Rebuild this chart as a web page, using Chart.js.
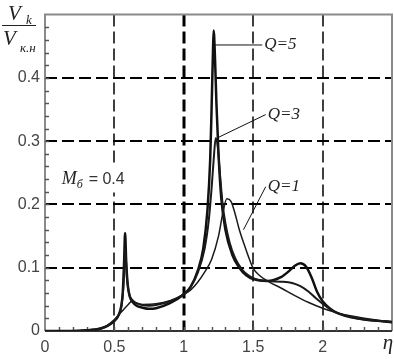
<!DOCTYPE html>
<html><head><meta charset="utf-8">
<script src="https://cdn.jsdelivr.net/npm/chart.js@4"></script>
<style>html,body{margin:0;padding:0;background:#fff;}canvas{display:block;}</style>
</head><body>
<canvas id="c" width="394" height="359"></canvas>
<script>
// ---- data ----
const etaQ5 = [0,0.2,0.3,0.4,0.45,0.5,0.53,0.55,0.56,0.57,0.577,0.585,0.595,0.61,0.63,0.66,0.7,0.75,0.8,0.9,1.0,1.05,1.1,1.14,1.17,1.19,1.2,1.21,1.215,1.225,1.235,1.25,1.27,1.3,1.35,1.4,1.45,1.5,1.6,1.7,1.76,1.8,1.84,1.88,1.92,1.96,2.0,2.05,2.1,2.2,2.3,2.4,2.5];
const vQ5   = [0,0,0.001,0.004,0.008,0.016,0.025,0.04,0.06,0.11,0.155,0.11,0.075,0.055,0.046,0.04,0.037,0.035,0.036,0.044,0.058,0.07,0.095,0.13,0.19,0.27,0.35,0.44,0.475,0.43,0.36,0.28,0.21,0.16,0.12,0.1,0.088,0.082,0.079,0.085,0.095,0.103,0.107,0.102,0.085,0.062,0.047,0.036,0.029,0.022,0.018,0.016,0.014];

const etaQ3 = [0,0.2,0.3,0.4,0.45,0.5,0.53,0.55,0.565,0.577,0.59,0.605,0.625,0.65,0.7,0.75,0.8,0.9,1.0,1.05,1.1,1.15,1.18,1.2,1.215,1.23,1.245,1.26,1.28,1.3,1.33,1.37,1.42,1.47,1.52,1.6,1.7,1.78,1.84,1.9,1.95,2.0,2.05,2.1,2.2,2.3,2.4,2.5];
const vQ3   = [0,0,0.001,0.004,0.008,0.016,0.025,0.038,0.07,0.13,0.085,0.06,0.05,0.045,0.041,0.04,0.041,0.047,0.058,0.07,0.092,0.13,0.175,0.225,0.27,0.305,0.29,0.25,0.2,0.17,0.14,0.115,0.097,0.087,0.082,0.079,0.078,0.076,0.071,0.062,0.052,0.043,0.035,0.029,0.022,0.018,0.016,0.014];

const etaQ1 = [0,0.2,0.3,0.4,0.45,0.5,0.55,0.6,0.625,0.65,0.7,0.8,0.9,1.0,1.05,1.1,1.15,1.2,1.25,1.28,1.31,1.34,1.37,1.4,1.43,1.47,1.5,1.55,1.62,1.7,1.8,1.9,2.0,2.1,2.2,2.3,2.4,2.5];
const vQ1   = [0,0,0.001,0.004,0.009,0.018,0.03,0.042,0.047,0.045,0.042,0.043,0.048,0.058,0.065,0.077,0.093,0.113,0.15,0.185,0.209,0.205,0.185,0.16,0.14,0.115,0.099,0.087,0.077,0.068,0.056,0.045,0.036,0.029,0.024,0.02,0.017,0.015];

const xTicks = [0,0.5,1,1.5,2];
const xTickLabels = ['0','0.5','1','1.5','2'];
const yTicks = [0,0.1,0.2,0.3,0.4];
const yTickLabels = ['0','0.1','0.2','0.3','0.4'];

// curve labels: [text, leader start eta, leader start V, leader end eta, leader end V]
const curveLabels = [
  ['Q=5', 1.215, 0.452, 1.565, 0.452],
  ['Q=3', 1.24, 0.305, 1.59, 0.342],
  ['Q=1', 1.43, 0.160, 1.59, 0.228]
];
const paramNote = {eta: 0.12, v: 0.241};

function pts(xs, ys){ return xs.map((x,i)=>({x:x, y:ys[i]})); }

const decor = {
  id: 'decor',
  beforeDatasetsDraw(chart){
    const ctx = chart.ctx, xs = chart.scales.x, ys = chart.scales.y, a = chart.chartArea;
    ctx.save();
    ctx.strokeStyle = '#000';
    ctx.setLineDash([12,5]);
    yTicks.forEach(v=>{ if(v===0) return;
      const y = Math.round(ys.getPixelForValue(v));
      ctx.lineWidth = 2; ctx.beginPath(); ctx.moveTo(a.left, y); ctx.lineTo(a.right, y); ctx.stroke();
    });
    xTicks.forEach(v=>{ if(v===0) return;
      const x = Math.round(xs.getPixelForValue(v));
      ctx.lineWidth = (v===1) ? 3 : 1.5; ctx.beginPath(); ctx.moveTo(x, a.top); ctx.lineTo(x, a.bottom); ctx.stroke();
    });
    ctx.setLineDash([]);
    ctx.strokeStyle = '#8a8a8a'; ctx.lineWidth = 2;
    ctx.beginPath(); ctx.moveTo(a.left, a.bottom); ctx.lineTo(a.left, a.top); ctx.lineTo(a.right, a.top); ctx.lineTo(a.right, a.bottom); ctx.stroke();
    ctx.strokeStyle = '#333'; ctx.beginPath(); ctx.moveTo(a.left, a.bottom); ctx.lineTo(a.right, a.bottom); ctx.stroke();
    ctx.strokeStyle = '#555'; ctx.lineWidth = 1.5;
    for(let i=1;i<25;i++){ const y = Math.round(ys.getPixelForValue(i*0.02))+0.5;
      ctx.beginPath(); ctx.moveTo(a.left, y); ctx.lineTo(a.left+4, y); ctx.stroke(); }
    for(let i=1;i<25;i++){ const x = Math.round(xs.getPixelForValue(i*0.1))+0.5;
      ctx.beginPath(); ctx.moveTo(x, a.bottom); ctx.lineTo(x, a.bottom-4); ctx.stroke(); }
    // parameter note with white backing
    const px = xs.getPixelForValue(paramNote.eta), py = ys.getPixelForValue(paramNote.v);
    ctx.fillStyle = '#fff';
    ctx.fillRect(px-2, py-12, 70, 26);
    ctx.fillStyle = '#222';
    ctx.textBaseline = 'alphabetic'; ctx.textAlign = 'left';
    ctx.font = 'italic 18px "Liberation Serif", serif';
    ctx.fillText('M', px, py+6);
    let w = ctx.measureText('M').width;
    ctx.font = 'italic 12px "Liberation Serif", serif';
    ctx.fillText('б', px+w, py+10);
    w += ctx.measureText('б').width + 6;
    ctx.font = '16px "Liberation Sans", Arial, sans-serif'; ctx.fillStyle = '#333';
    ctx.fillText('= 0.4', px+w, py+6);
    ctx.restore();
  },
  afterDatasetsDraw(chart){
    const ctx = chart.ctx, xs = chart.scales.x, ys = chart.scales.y, a = chart.chartArea;
    ctx.save();
    ctx.fillStyle = '#222'; ctx.strokeStyle = '#111'; ctx.lineWidth = 1;
    curveLabels.forEach(l=>{
      const x1 = xs.getPixelForValue(l[1]), y1 = ys.getPixelForValue(l[2]);
      const x2 = xs.getPixelForValue(l[3]), y2 = ys.getPixelForValue(l[4]);
      ctx.beginPath(); ctx.moveTo(x1,y1); ctx.lineTo(x2,y2); ctx.stroke();
      ctx.font = 'italic 17px "Liberation Serif", serif';
      ctx.textBaseline = 'middle'; ctx.textAlign = 'left';
      ctx.fillText(l[0], x2+2, y2);
    });
    ctx.textBaseline = 'alphabetic';
    ctx.fillStyle = '#222';
    ctx.font = 'italic 21px "Liberation Serif", serif';
    ctx.fillText('V', 8, 20);
    ctx.font = 'italic 13px "Liberation Serif", serif';
    ctx.fillText('k', 26, 24);
    ctx.strokeStyle = '#222'; ctx.lineWidth = 1.2;
    ctx.beginPath(); ctx.moveTo(2, 25.5); ctx.lineTo(36, 25.5); ctx.stroke();
    ctx.font = 'italic 21px "Liberation Serif", serif';
    ctx.fillText('V', 3, 45);
    ctx.font = 'italic 13px "Liberation Serif", serif';
    ctx.fillText('к.н', 20, 52);
    ctx.font = 'italic 21px "Liberation Serif", serif';
    ctx.textAlign = 'center';
    ctx.fillText('η', xs.getPixelForValue(2.5)-4, a.bottom+18);
    ctx.restore();
  }
};

new Chart(document.getElementById('c'), {
  type: 'line',
  data: {
    datasets: [
      {label:'Q=1', data: pts(etaQ1,vQ1), borderColor:'#1a1a1a', borderWidth:1.5, pointRadius:0, fill:false, cubicInterpolationMode:'monotone'},
      {label:'Q=3', data: pts(etaQ3,vQ3), borderColor:'#1a1a1a', borderWidth:2, pointRadius:0, fill:false, cubicInterpolationMode:'monotone'},
      {label:'Q=5', data: pts(etaQ5,vQ5), borderColor:'#111', borderWidth:2.5, pointRadius:0, fill:false, cubicInterpolationMode:'monotone'}
    ]
  },
  options: {
    responsive: false, animation: false, devicePixelRatio: 1,
    layout: {padding: {top: 10, right: 2, left: 0, bottom: 0}},
    plugins: {legend: {display:false}, tooltip: {enabled:false}},
    scales: {
      x: {
        type: 'linear', min: 0, max: 2.5,
        afterBuildTicks: s => { s.ticks = xTicks.map(v=>({value:v})); },
        ticks: {
          autoSkip: false, maxRotation: 0, padding: 7,
          color: '#444', font: {family: '"Liberation Sans", Arial, sans-serif', size: 16},
          callback: (v) => { const i = xTicks.indexOf(v); return i>=0 ? xTickLabels[i] : ''; }
        },
        grid: {display:false, drawTicks:false}, border: {display:false},
        afterFit: s => { s.height = 28; }
      },
      y: {
        type: 'linear', min: 0, max: 0.5,
        afterBuildTicks: s => { s.ticks = yTicks.map(v=>({value:v})); },
        ticks: {
          autoSkip: false, padding: 5,
          color: '#444', font: {family: '"Liberation Sans", Arial, sans-serif', size: 16},
          callback: (v) => { const i = yTicks.indexOf(v); return i>=0 ? yTickLabels[i] : ''; }
        },
        grid: {display:false, drawTicks:false}, border: {display:false},
        afterFit: s => { s.width = 45; }
      }
    }
  },
  plugins: [decor]
});
</script>
</body></html>
